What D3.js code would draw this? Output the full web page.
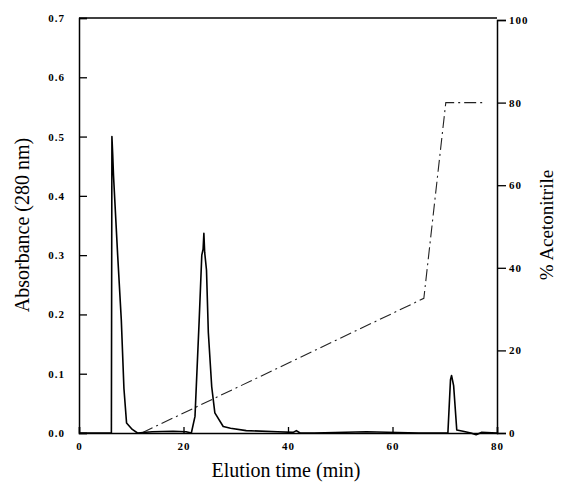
<!DOCTYPE html>
<html>
<head>
<meta charset="utf-8">
<script src="https://cdn.jsdelivr.net/npm/d3@7"></script>
<style>
  body { margin: 0; background: #fff; }
</style>
</head>
<body>
<div id="chart"></div>
<script>
// absorbance trace (280 nm)
let traceTime = [0, 6.2, 6.3, 6.45, 6.6, 7.4, 8.1, 8.6, 9.1, 10.2, 11.2, 14, 18, 20.5, 21.5,
  22.2, 23.0, 23.5, 23.75, 23.9, 24.05, 24.4, 24.75, 25.4, 26.0, 27.6, 29, 32, 38, 41, 41.6, 42.3,
  45, 55, 65, 70.6, 71.1, 71.3, 71.7, 72.3, 73.5, 75, 76, 77, 80];
let traceAbs = [0, 0, 0.5, 0.47, 0.435, 0.30, 0.19, 0.075, 0.017, 0.006, 0.0, 0.002, 0.003, 0.002, 0.0,
  0.028, 0.19, 0.30, 0.31, 0.337, 0.305, 0.275, 0.17, 0.078, 0.034, 0.011, 0.008, 0.004, 0.002, 0.001, 0.004, 0.0,
  0.0, 0.002, 0.0, 0.0, 0.09, 0.097, 0.08, 0.005, 0.003, 0.0, -0.003, 0.001, 0.0];

// acetonitrile gradient
let gradTime = [12, 66, 70.2, 77.3];
let gradPct = [0, 32.6, 80, 80];

let xTicks = [0, 20, 40, 60, 80];
let yTicks = [0, 0.1, 0.2, 0.3, 0.4, 0.5, 0.6, 0.7];
let y2Ticks = [0, 20, 40, 60, 80, 100];

let width = 561;
let height = 491;
let margin = { left: 79, right: 64, top: 18, bottom: 58 };
let serif = '"Liberation Serif", Tinos, "Times New Roman", "DejaVu Serif", serif';

let svg = d3.select("#chart")
    .append('svg')
    .attr('width', width)
    .attr('height', height);

let x = d3.scaleLinear().domain([0, 80]).range([margin.left, width - margin.right]);
let y = d3.scaleLinear().domain([0, 0.7]).range([height - margin.bottom, margin.top]);
let y2 = d3.scaleLinear().domain([0, 100]).range([height - margin.bottom, 20]);

// frame (top line)
svg.append('line')
    .attr('x1', x(0)).attr('x2', x(80))
    .attr('y1', margin.top).attr('y2', margin.top)
    .attr('stroke', 'black').attr('stroke-width', 1.5);

// left axis, ticks inward
let yAxis = svg.append('g')
    .attr('transform', 'translate(' + x(0) + ',0)')
    .call(d3.axisRight(y).tickValues(yTicks).tickSize(8).tickFormat(d3.format('.1f')));
yAxis.selectAll('text')
    .attr('x', -14)
    .style('text-anchor', 'end');

// right axis, ticks outward
let y2Axis = svg.append('g')
    .attr('transform', 'translate(' + x(80) + ',0)')
    .call(d3.axisRight(y2).tickValues(y2Ticks).tickSize(9).tickFormat(d3.format('d')));
y2Axis.selectAll('text').attr('x', 12);

// bottom axis, ticks inward
let xAxis = svg.append('g')
    .attr('transform', 'translate(0,' + y(0) + ')')
    .call(d3.axisTop(x).tickValues(xTicks).tickSize(6).tickFormat(d3.format('d')));
xAxis.selectAll('text')
    .attr('y', 17)
    .attr('dy', '0');

[yAxis, y2Axis, xAxis].forEach(function (g) {
    g.attr('font-family', null);
    g.select('.domain').attr('stroke', 'black').attr('stroke-width', 1.5);
    g.selectAll('.tick line').attr('stroke', 'black').attr('stroke-width', 1.3);
    g.selectAll('text')
        .attr('fill', 'black')
        .style('font-family', serif)
        .style('font-weight', 'bold')
        .style('font-size', '11px')
        .style('letter-spacing', '1px');
});

// gradient line (dash-dot)
let gradLine = d3.line()
    .x(function (d) { return x(d[0]); })
    .y(function (d) { return y2(d[1]); });
svg.append('path')
    .datum(gradTime.map(function (t, i) { return [t, gradPct[i]]; }))
    .attr('d', gradLine)
    .attr('fill', 'none')
    .attr('stroke', '#222')
    .attr('stroke-width', 1.1)
    .attr('stroke-dasharray', '12,4,2,4');

// absorbance trace
let traceLine = d3.line()
    .x(function (d) { return x(d[0]); })
    .y(function (d) { return y(d[1]); });
svg.append('path')
    .datum(traceTime.map(function (t, i) { return [t, traceAbs[i]]; }))
    .attr('d', traceLine)
    .attr('fill', 'none')
    .attr('stroke', 'black')
    .attr('stroke-width', 1.6)
    .attr('stroke-linejoin', 'round');

// axis titles
svg.append('text')
    .attr('x', 286)
    .attr('y', 477)
    .attr('text-anchor', 'middle')
    .style('font-family', serif)
    .style('font-size', '20px')
    .text('Elution  time (min)');

svg.append('text')
    .attr('transform', 'translate(29,' + 225 + ') rotate(-90)')
    .attr('text-anchor', 'middle')
    .style('font-family', serif)
    .style('font-size', '20px')
    .text('Absorbance (280 nm)');

svg.append('text')
    .attr('transform', 'translate(553,' + 225 + ') rotate(-90)')
    .attr('text-anchor', 'middle')
    .style('font-family', serif)
    .style('font-size', '19px')
    .text('% Acetonitrile');
</script>
</body>
</html>
